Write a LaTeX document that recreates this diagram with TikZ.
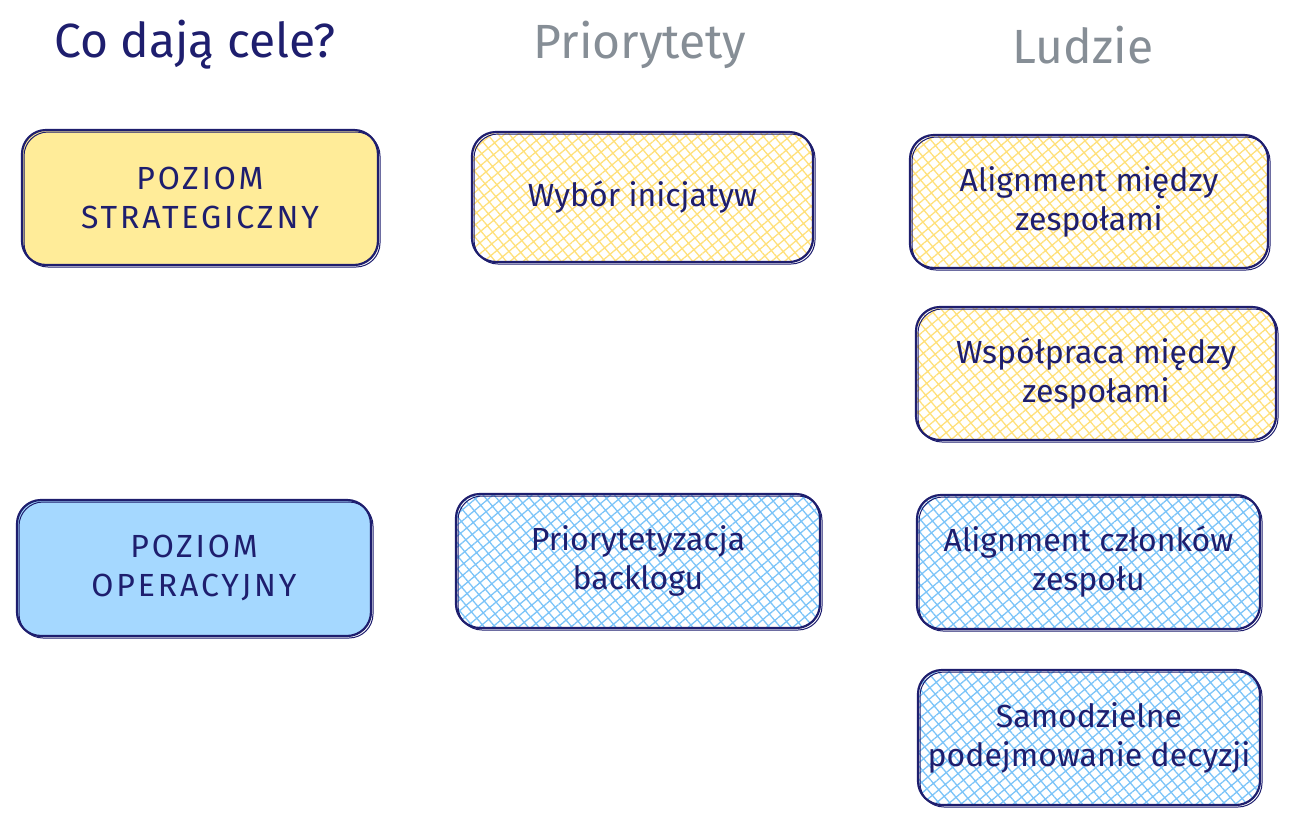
\documentclass[tikz,border=0pt]{standalone}
\usepackage{fontspec}
\setmainfont{Fira Sans}
\usetikzlibrary{patterns.meta}
\definecolor{navy}{HTML}{1E1E6E}
\definecolor{hgray}{HTML}{868E96}
\definecolor{yfill}{HTML}{FFEC99}
\definecolor{bfill}{HTML}{A5D8FF}
\definecolor{yhatch}{HTML}{FFE07A}
\definecolor{bhatch}{HTML}{7CC4F8}
\tikzset{
  box/.style={draw=navy, line width=1.1pt, rounded corners=12pt, align=center,
    text=navy, font=\fontsize{16}{19.5}\selectfont,
    postaction={draw=navy, line width=0.5pt, rounded corners=12pt, transform canvas={shift={(1pt,-1pt)}}}},
  caps/.style={font=\fontsize{16}{19.5}\selectfont\addfontfeature{LetterSpace=9}},
  solidy/.style={box, fill=yfill},
  solidb/.style={box, fill=bfill},
  hatchy/.style={box, pattern={Hatch[angle=40,distance=4.2pt,line width=0.65pt]}, pattern color=yhatch},
  hatchb/.style={box, pattern={Hatch[angle=40,distance=4.2pt,line width=0.65pt]}, pattern color=bhatch},
  head/.style={font=\fontsize{24}{28}\selectfont},
}
\begin{document}
\begin{tikzpicture}[x=0.5pt,y=-0.5pt]
\useasboundingbox (0,0) rectangle (1292,821);
\node[head, text=navy] (h1) at (195,45) {Co dają cele?};
\node[head, text=hgray] (h2) at (640,45) {Priorytety};
\node[head, text=hgray] (h3) at (1083,45) {Ludzie};

\node[solidy, caps, minimum width=178pt, minimum height=67.5pt] (s) at (200,197.5) {POZIOM\\STRATEGICZNY};
\node[hatchy, minimum width=170.5pt, minimum height=65pt] (w) at (642.5,197) {Wybór inicjatyw};
\node[hatchy, minimum width=179pt, minimum height=66.5pt] (a1) at (1089,201.5) {Alignment między\\zespołami};
\node[hatchy, minimum width=180pt, minimum height=66.5pt] (wp) at (1096,373.5) {Współpraca między\\zespołami};

\node[solidb, caps, minimum width=177pt, minimum height=68pt] (o) at (194,568) {POZIOM\\OPERACYJNY};
\node[hatchb, minimum width=182pt, minimum height=67pt] (p) at (638,561) {Priorytetyzacja\\backlogu};
\node[hatchb, minimum width=171.5pt, minimum height=67pt] (a2) at (1088.5,562) {Alignment członków\\zespołu};
\node[hatchb, minimum width=171pt, minimum height=67.5pt] (sd) at (1089,737.5) {Samodzielne\\podejmowanie decyzji};
\end{tikzpicture}
\end{document}
